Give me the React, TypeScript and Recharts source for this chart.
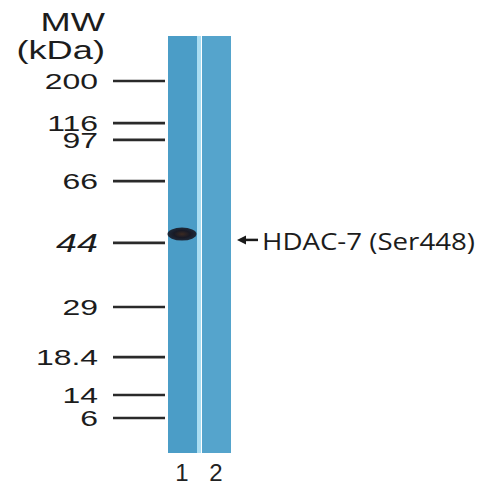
import React from "react";
import {
  ComposedChart,
  Bar,
  Cell,
  Scatter,
  XAxis,
  YAxis,
  ReferenceLine,
} from "recharts";

// migration distance, % of lane length from the well
const markerLabels = ["200", "116", "97", "66", "44", "29", "18.4", "14", "6"];
const markerPos = [10.8, 20.9, 24.9, 34.8, 49.6, 65.0, 77.0, 86.1, 91.6];

const lanes = [1, 2];
const laneNames = ["1", "2"];
const laneColors = ["#4b9dc7", "#55a4cc"];

const bandLane = [1];
const bandPos = [47.5];

const annotationText = "HDAC-7 (Ser448)";
const annotationPos = 48.9;

const laneData = lanes.map((l) => ({ lane: l, span: [0, 100] }));
const bandData = bandLane.map((l, i) => ({ lane: l, pos: bandPos[i] }));

const FONT = "'Liberation Sans', Arial, sans-serif";

function MarkerTick(props: any) {
  const { x, y, payload } = props;
  const label = markerLabels[payload.index] ?? "";
  const big = label === "44";
  return (
    <g transform={`translate(${x},${y}) scale(1.45,1)`}>
      <text
        x={0}
        y={0}
        dy="0.36em"
        textAnchor="end"
        fontFamily={FONT}
        fontSize={big ? 26 : 22}
        fontStyle={big ? "italic" : "normal"}
        fill="#1c1c1c"
      >
        {label}
      </text>
    </g>
  );
}

function LaneTick(props: any) {
  const { x, y, payload } = props;
  return (
    <text
      x={x}
      y={y}
      dy="0.71em"
      textAnchor="middle"
      fontFamily={FONT}
      fontSize={24}
      fill="#222"
    >
      {laneNames[lanes.indexOf(payload.value)]}
    </text>
  );
}

function AxisTitle(props: any) {
  const { viewBox } = props;
  const right = viewBox.x + viewBox.width - 60;
  return (
    <g transform={`translate(${right},0) scale(1.45,1)`}>
      <text x={0} y={31} textAnchor="end" fontFamily={FONT} fontSize={25} fill="#1c1c1c">
        MW
      </text>
      <text x={0} y={59} textAnchor="end" fontFamily={FONT} fontSize={25} fill="#1c1c1c">
        (kDa)
      </text>
    </g>
  );
}

function Annotation(props: any) {
  const { viewBox } = props;
  const x0 = viewBox.x + viewBox.width + 4;
  const y0 = viewBox.y;
  return (
    <g>
      <line x1={x0 + 6} y1={y0} x2={x0 + 21} y2={y0} stroke="#1a1a1a" strokeWidth={2.5} />
      <polygon
        points={`${x0},${y0} ${x0 + 9},${y0 - 4.5} ${x0 + 9},${y0 + 4.5}`}
        fill="#1a1a1a"
      />
      <text
        x={x0 + 25}
        y={y0 + 10}
        fontFamily="'Open Sans', sans-serif"
        fontSize={24}
        textLength={213}
        lengthAdjust="spacingAndGlyphs"
        fill="#1c1c1c"
      >
        {annotationText}
      </text>
    </g>
  );
}

function BandShape(props: any) {
  const { cx, cy } = props;
  return (
    <g>
      <defs>
        <radialGradient id="bandGrad" cx="50%" cy="50%" r="50%">
          <stop offset="0%" stopColor="#3b2a22" />
          <stop offset="55%" stopColor="#181a26" />
          <stop offset="100%" stopColor="#1e2a3a" />
        </radialGradient>
      </defs>
      <ellipse cx={cx} cy={cy} rx={14.5} ry={6.5} fill="url(#bandGrad)" />
    </g>
  );
}

export default function App() {
  return (
    <div style={{ position: "absolute", left: 0, top: 0, background: "#fff" }}>
      <ComposedChart
        width={483}
        height={489}
        data={laneData}
        margin={{ top: 36, right: 250, left: 0, bottom: 0 }}
      >
        <XAxis
          dataKey="lane"
          type="number"
          domain={[0.5, 2.5]}
          ticks={lanes}
          height={36}
          axisLine={false}
          tickLine={false}
          tickMargin={5}
          tick={<LaneTick />}
        />
        <YAxis
          type="number"
          domain={[0, 100]}
          reversed
          ticks={markerPos}
          interval={0}
          width={165}
          axisLine={false}
          tickSize={52}
          tickMargin={15}
          tickLine={{ stroke: "#2a2a2a", strokeWidth: 2.6 }}
          tick={<MarkerTick />}
          label={<AxisTitle />}
        />
        <Bar dataKey="span" barSize={29} isAnimationActive={false}>
          {laneData.map((d, i) => (
            <Cell key={d.lane} fill={laneColors[i]} />
          ))}
        </Bar>
        <ReferenceLine x={1.5} stroke="#a9ddf2" strokeWidth={4} />
        <Scatter
          data={bandData}
          dataKey="pos"
          shape={<BandShape />}
          isAnimationActive={false}
        />
        <ReferenceLine y={annotationPos} stroke="none" label={<Annotation />} />
      </ComposedChart>
    </div>
  );
}
